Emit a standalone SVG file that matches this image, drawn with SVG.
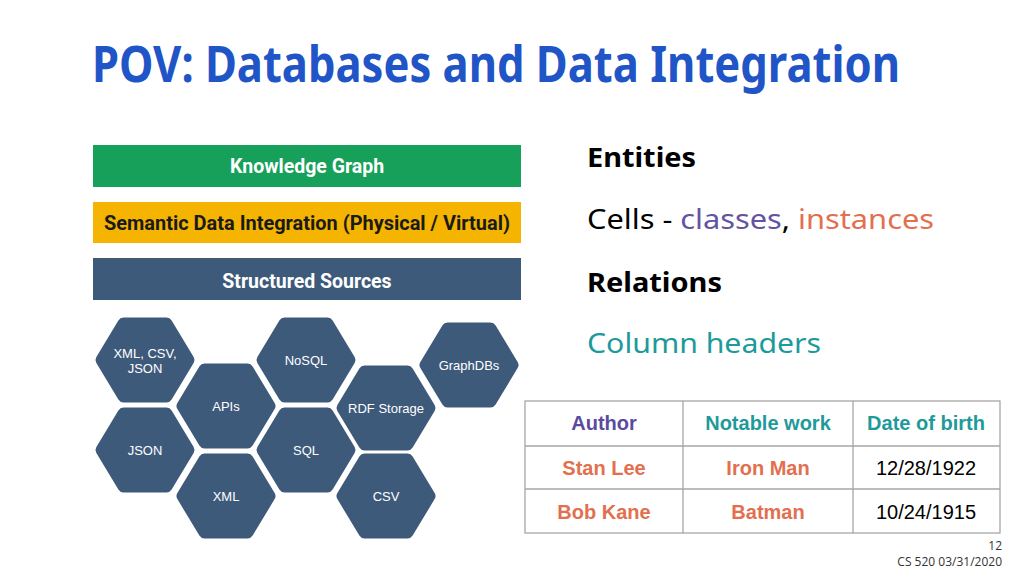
<svg xmlns="http://www.w3.org/2000/svg" xmlns:xlink="http://www.w3.org/1999/xlink" width="1022" height="576" viewBox="0 0 1022 576">
<style>
.title{font-family:"Noto Sans","Open Sans",sans-serif;font-weight:bold;font-size:50px;fill:#1f55c6}
.bar{font-family:Roboto,"Liberation Sans",sans-serif;font-weight:bold;font-size:19.5px;text-anchor:middle}
.hex{fill:#3e5a7b;stroke:#3e5a7b;stroke-width:12;stroke-linejoin:round}
.hext{font-family:"Liberation Sans",Arial,sans-serif;font-size:13px;fill:#ffffff;text-anchor:middle}
.rt{font-family:"Noto Sans","Open Sans",sans-serif;font-size:27px}
.tb{font-family:"Liberation Sans",Arial,sans-serif;font-size:20px;text-anchor:middle}
.grid{stroke:#a6a6a6;stroke-width:1.3;fill:none}
.foot{font-family:"Open Sans","Noto Sans",sans-serif;font-size:12px;fill:#333;text-anchor:end}
</style>
<defs>
<polygon id="hx" class="hex" points="-43.5,0 -21.5,-36.5 21.5,-36.5 43.5,0 21.5,36.5 -21.5,36.5"/>
</defs>
<rect width="1022" height="576" fill="#ffffff"/>

<text class="title" x="92" y="82" textLength="808" lengthAdjust="spacingAndGlyphs">POV: Databases and Data Integration</text>

<g id="knowledge-graph">
<rect x="93" y="145" width="428" height="42" fill="#16a05a"/>
<text class="bar" x="307" y="173" fill="#ffffff">Knowledge Graph</text>
</g>
<g id="semantic-integration">
<rect x="93" y="202" width="428" height="41" fill="#f4b400"/>
<text class="bar" x="307" y="230" fill="#1a1a1a" textLength="406" lengthAdjust="spacingAndGlyphs">Semantic Data Integration (Physical / Virtual)</text>
</g>
<g id="structured-sources">
<rect x="93" y="258" width="428" height="42" fill="#3e5a7b"/>
<text class="bar" x="307" y="288" fill="#ffffff">Structured Sources</text>
</g>

<g id="hex-xml-csv-json"><use xlink:href="#hx" transform="translate(145,360)"/><text class="hext" x="145" y="358">XML, CSV,</text><text class="hext" x="145" y="373">JSON</text></g>
<g id="hex-apis"><use xlink:href="#hx" transform="translate(226,406)"/><text class="hext" x="226" y="411">APIs</text></g>
<g id="hex-json"><use xlink:href="#hx" transform="translate(145,450)"/><text class="hext" x="145" y="455">JSON</text></g>
<g id="hex-xml"><use xlink:href="#hx" transform="translate(226,496)"/><text class="hext" x="226" y="501">XML</text></g>
<g id="hex-nosql"><use xlink:href="#hx" transform="translate(306,360)"/><text class="hext" x="306" y="365">NoSQL</text></g>
<g id="hex-sql"><use xlink:href="#hx" transform="translate(306,450)"/><text class="hext" x="306" y="455">SQL</text></g>
<g id="hex-rdf"><use xlink:href="#hx" transform="translate(386,408)"/><text class="hext" x="386" y="413">RDF Storage</text></g>
<g id="hex-csv"><use xlink:href="#hx" transform="translate(386,496)"/><text class="hext" x="386" y="501">CSV</text></g>
<g id="hex-graphdbs"><use xlink:href="#hx" transform="translate(469,365)"/><text class="hext" x="469" y="370">GraphDBs</text></g>

<g id="connectors"></g>

<g id="right-text">
<text class="rt" x="587" y="167" font-weight="bold" fill="#000" textLength="109" lengthAdjust="spacingAndGlyphs">Entities</text>
<text class="rt" x="587" y="229" textLength="347" lengthAdjust="spacingAndGlyphs"><tspan fill="#000">Cells - </tspan><tspan fill="#6453a3">classes</tspan><tspan fill="#000">, </tspan><tspan fill="#e2704f">instances</tspan></text>
<text class="rt" x="587" y="292" font-weight="bold" fill="#000" textLength="135" lengthAdjust="spacingAndGlyphs">Relations</text>
<text class="rt" x="587" y="353" fill="#1d9a9a" textLength="234" lengthAdjust="spacingAndGlyphs">Column headers</text>
</g>

<g id="table">
<rect class="grid" x="525" y="401" width="475" height="132"/>
<line class="grid" x1="525" y1="446" x2="1000" y2="446"/>
<line class="grid" x1="525" y1="489" x2="1000" y2="489"/>
<line class="grid" x1="683" y1="401" x2="683" y2="533"/>
<line class="grid" x1="853" y1="401" x2="853" y2="533"/>
<text class="tb" x="604" y="430" font-weight="bold" fill="#5c4aa0">Author</text>
<text class="tb" x="768" y="430" font-weight="bold" fill="#1f9a9a">Notable work</text>
<text class="tb" x="926" y="430" font-weight="bold" fill="#1f9a9a">Date of birth</text>
<text class="tb" x="604" y="475" font-weight="bold" fill="#e2704f">Stan Lee</text>
<text class="tb" x="768" y="475" font-weight="bold" fill="#e2704f">Iron Man</text>
<text class="tb" x="926" y="475" fill="#000">12/28/1922</text>
<text class="tb" x="604" y="519" font-weight="bold" fill="#e2704f">Bob Kane</text>
<text class="tb" x="768" y="519" font-weight="bold" fill="#e2704f">Batman</text>
<text class="tb" x="926" y="519" fill="#000">10/24/1915</text>
</g>

<text class="foot" x="1002" y="550">12</text>
<text class="foot" x="1002" y="566">CS 520 03/31/2020</text>
</svg>
